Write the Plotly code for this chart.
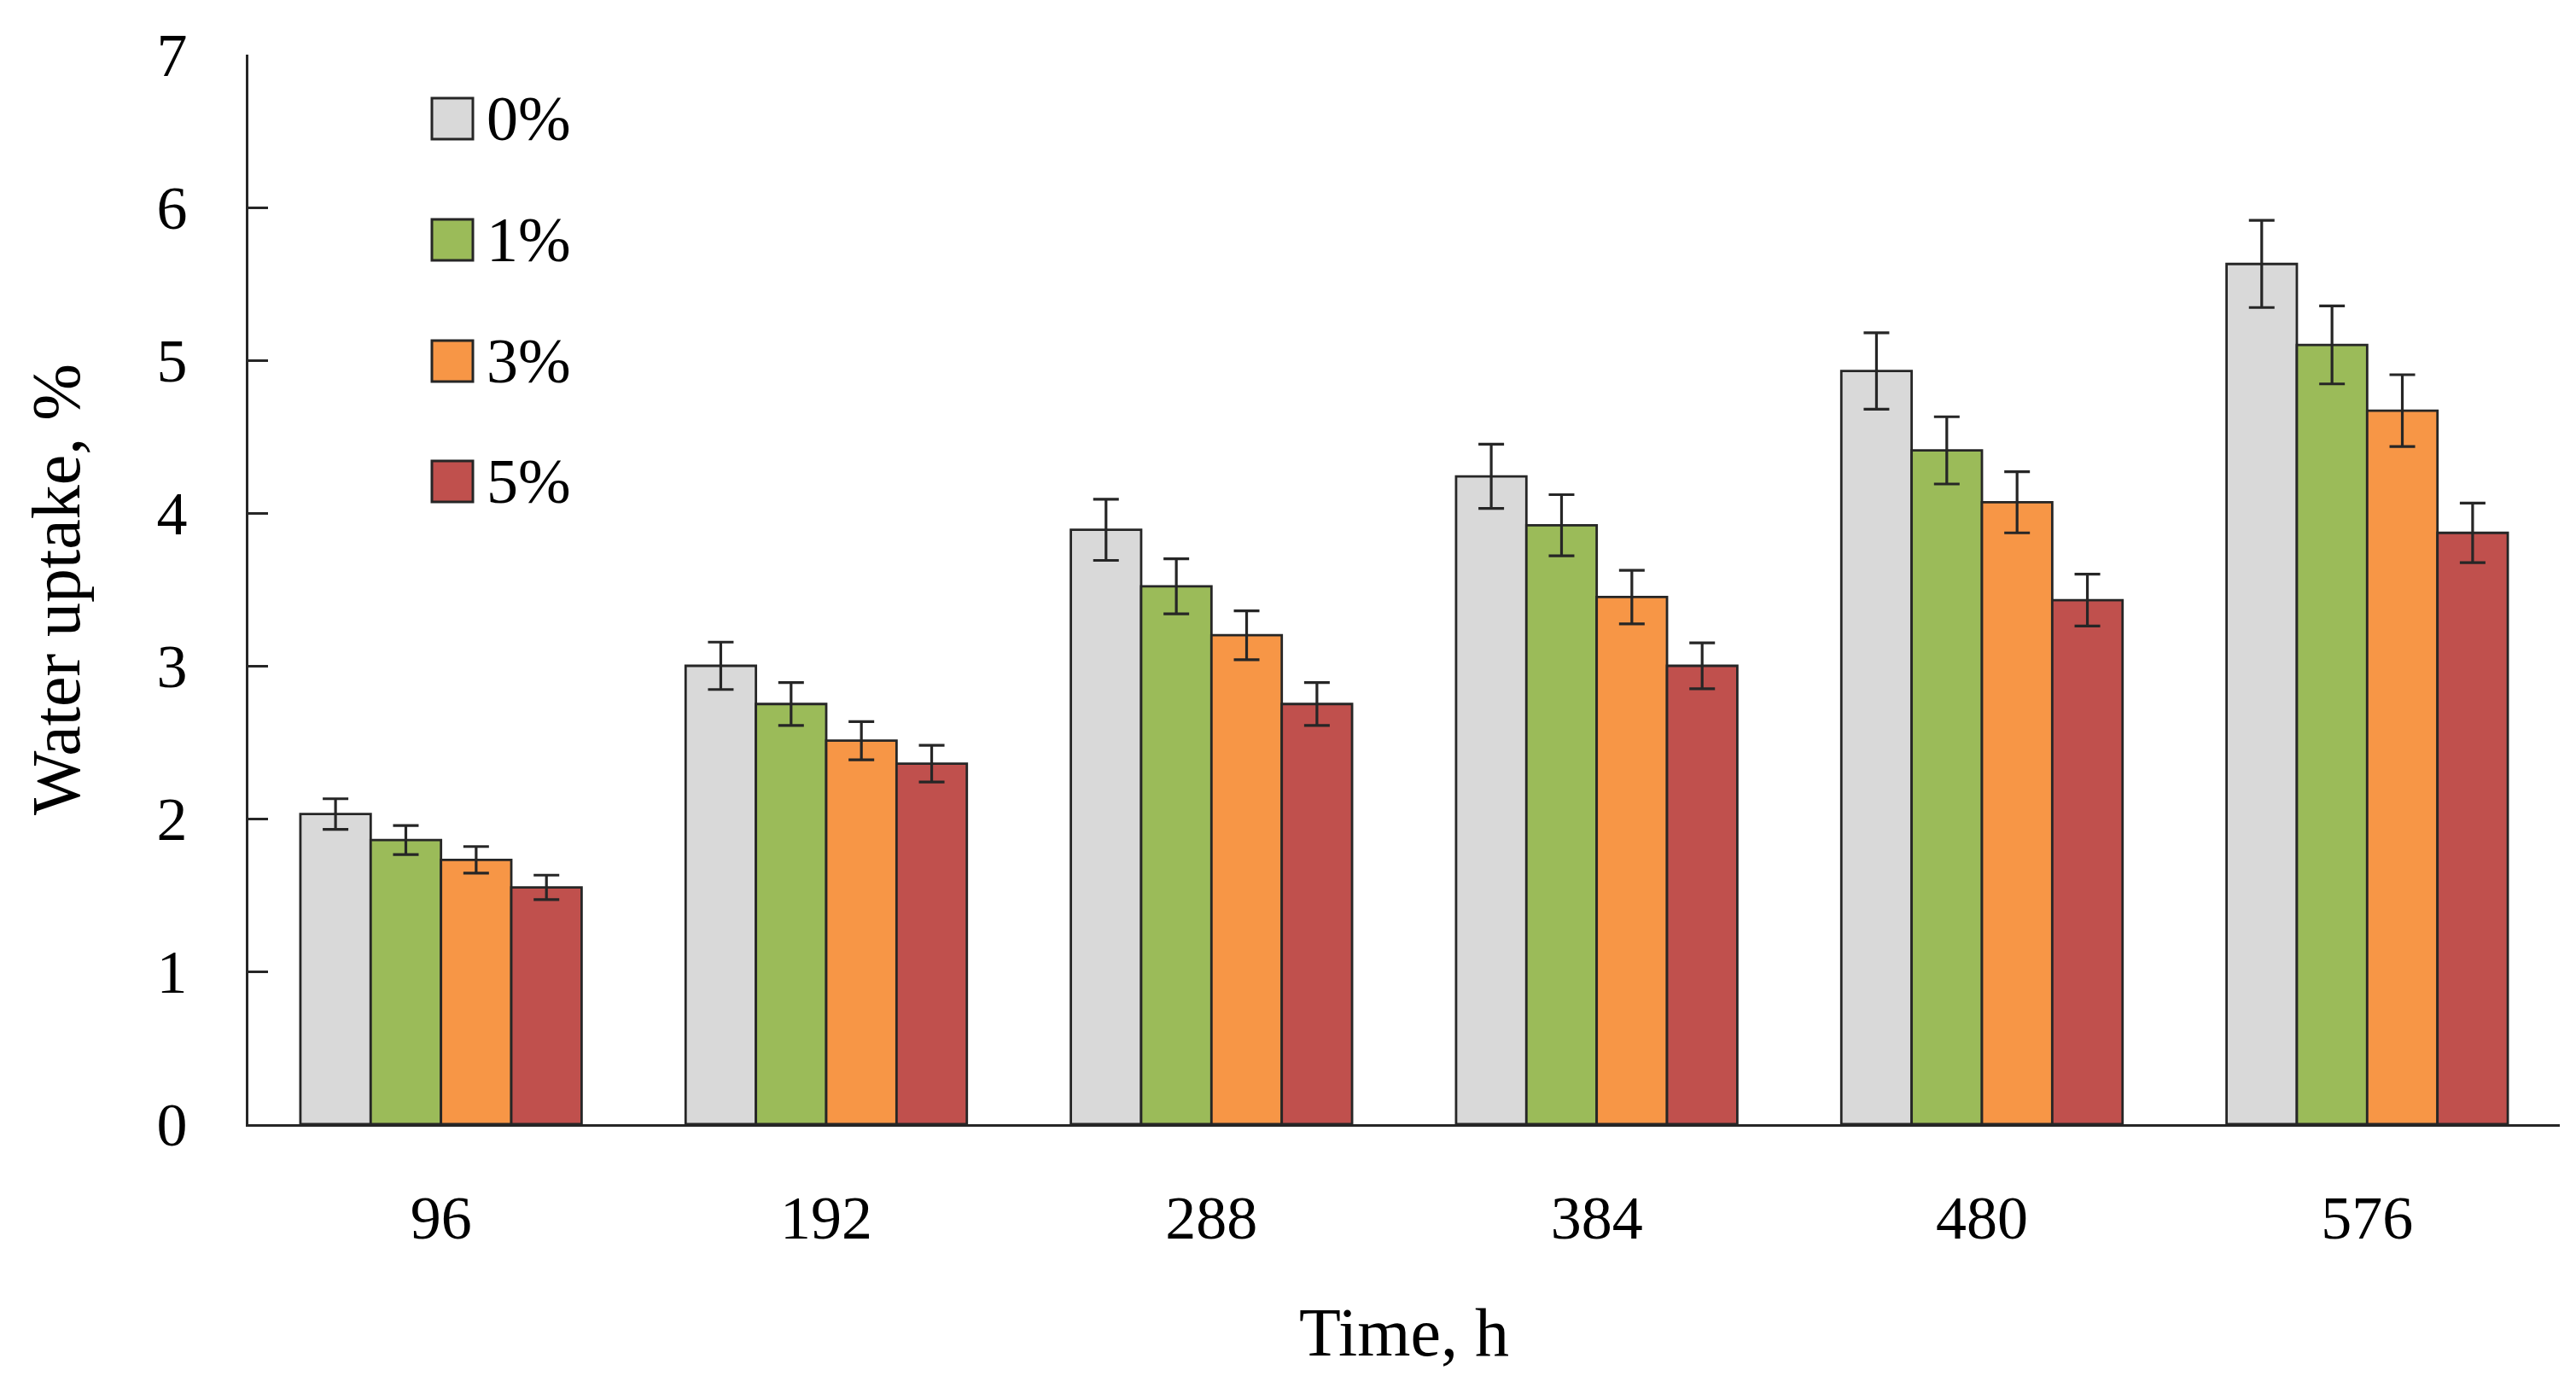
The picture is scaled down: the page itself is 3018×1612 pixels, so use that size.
import plotly.graph_objects as go

# ---- data ----
times = ["96", "192", "288", "384", "480", "576"]
series_names = ["0%", "1%", "3%", "5%"]
vals_0 = [2.03, 3.00, 3.89, 4.24, 4.93, 5.63]
vals_1 = [1.86, 2.75, 3.52, 3.92, 4.41, 5.10]
vals_3 = [1.73, 2.51, 3.20, 3.45, 4.07, 4.67]
vals_5 = [1.55, 2.36, 2.75, 3.00, 3.43, 3.87]
err_0 = [0.10, 0.155, 0.20, 0.21, 0.25, 0.285]
err_1 = [0.095, 0.14, 0.18, 0.20, 0.22, 0.255]
err_3 = [0.087, 0.125, 0.16, 0.175, 0.20, 0.235]
err_5 = [0.08, 0.12, 0.14, 0.15, 0.17, 0.195]
y_ticks = [0, 1, 2, 3, 4, 5, 6, 7]

colors = ["#D9D9D9", "#9BBB59", "#F79646", "#C0504D"]
all_vals = [vals_0, vals_1, vals_3, vals_5]
all_errs = [err_0, err_1, err_3, err_5]

FONT = "Liberation Serif"
DARK = "#262626"
FS_TICK = 72
FS_TITLE = 80
FS_LEG = 74

fig = go.Figure()
for name, v, e, c in zip(series_names, all_vals, all_errs, colors):
    fig.add_trace(go.Bar(
        x=times, y=v, name=name, showlegend=False,
        marker=dict(color=c, line=dict(color=DARK, width=2.8)),
        error_y=dict(type="data", array=e, visible=True, color=DARK,
                     thickness=3.2, width=15),
    ))

# manual legend (large square swatches)
W, H = 3018, 1612
ml, mr, mt, mb = 291, 19, 64, 295
pw = W - ml - mr
ph = H - mt - mb
def px2paper_x(px):
    return (px - ml) / pw
def px2paper_y(py):
    return (H - mb - py) / ph

row_centers = [139, 281, 423, 564]
for name, c, cy in zip(series_names, colors, row_centers):
    fig.add_shape(type="rect", xref="paper", yref="paper",
                  x0=px2paper_x(506), x1=px2paper_x(554),
                  y0=px2paper_y(cy + 24), y1=px2paper_y(cy - 24),
                  fillcolor=c, line=dict(color=DARK, width=3))
    fig.add_annotation(x=px2paper_x(568), y=px2paper_y(cy), xref="paper", yref="paper",
                       text=name, showarrow=False, xanchor="left", yanchor="middle",
                       font=dict(family=FONT, size=FS_LEG, color="black"))

fig.update_layout(
    width=W, height=H,
    margin=dict(l=ml, r=mr, t=mt, b=mb, autoexpand=False),
    paper_bgcolor="white", plot_bgcolor="white",
    barmode="group", bargap=0.27, bargroupgap=0,
    font=dict(family=FONT, size=FS_TICK, color="black"),
)
fig.update_yaxes(
    range=[0, 7], tickvals=y_ticks, ticks="inside", ticklen=23, tickwidth=3,
    tickcolor=DARK, showline=True, linewidth=3, linecolor=DARK,
    showgrid=False, zeroline=False, ticklabelstandoff=54,
    tickfont=dict(family=FONT, size=FS_TICK),
    title=dict(text="Water uptake, %", font=dict(family=FONT, size=FS_TITLE), standoff=64),
    automargin=False,
)
fig.update_xaxes(
    type="category", ticks="", showline=True, linewidth=3, linecolor=DARK,
    showgrid=False, ticklabelstandoff=45,
    tickfont=dict(family=FONT, size=FS_TICK),
    title=dict(text="Time, h", font=dict(family=FONT, size=FS_TITLE), standoff=66),
    automargin=False,
)

fig.write_html("out.html", config={"displayModeBar": False},
               post_script="document.body.style.margin='0';")
